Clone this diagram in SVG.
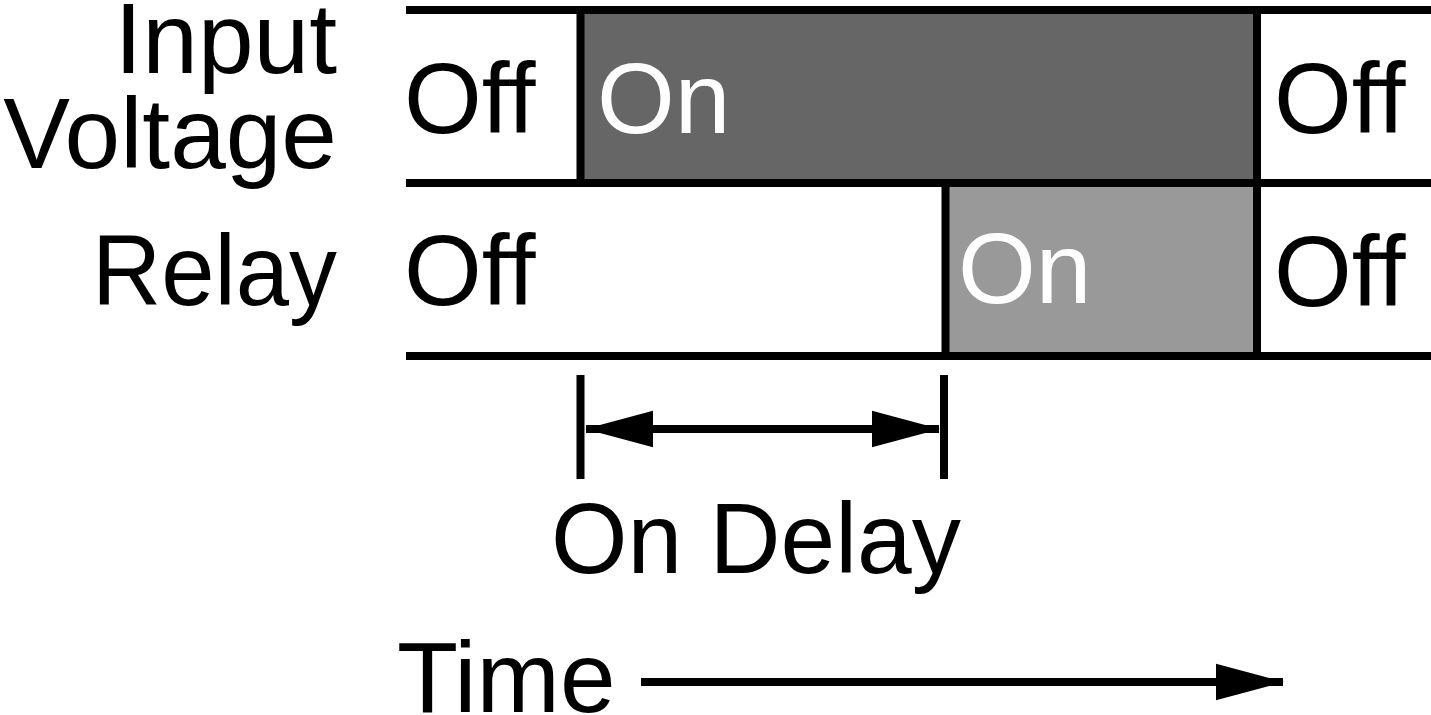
<svg xmlns="http://www.w3.org/2000/svg" width="1431" height="715" viewBox="0 0 1431 715">
  <style>
    text { font-family: "Liberation Sans", Arial, Helvetica, sans-serif; font-size: 100px; fill: #000; }
    .lbl { text-anchor: end; }
    .on { fill: #fff; }
    .ln { stroke: #000; stroke-width: 8; fill: none; }
  </style>
  <defs>
    <marker id="head" markerUnits="userSpaceOnUse" markerWidth="68" markerHeight="38" viewBox="0 0 67 36" refX="66" refY="18" orient="auto-start-reverse">
      <path d="M0,0 L67,18 L0,36 z" fill="#000"/>
    </marker>
  </defs>
  <rect width="1431" height="715" fill="#fff"/>

  <g id="labels">
    <text class="lbl" x="337" y="73">Input</text>
    <text class="lbl" x="337" y="168">Voltage</text>
    <text class="lbl" x="337" y="305" textLength="245" lengthAdjust="spacingAndGlyphs">Relay</text>
  </g>

  <g id="input-row">
    <rect x="580" y="10" width="677" height="173" fill="#666"/>
    <text x="404" y="133">Off</text>
    <text class="on" x="597" y="133">On</text>
    <text x="1274" y="133">Off</text>
  </g>

  <g id="relay-row">
    <rect x="945" y="183" width="312" height="173" fill="#999"/>
    <text x="404" y="305">Off</text>
    <text class="on" x="958" y="303">On</text>
    <text x="1274" y="306">Off</text>
  </g>

  <g id="grid">
    <line class="ln" x1="406" y1="10" x2="1431" y2="10"/>
    <line class="ln" x1="406" y1="183" x2="1431" y2="183"/>
    <line class="ln" x1="406" y1="356" x2="1431" y2="356"/>
    <line class="ln" x1="580.5" y1="10" x2="580.5" y2="183"/>
    <line class="ln" x1="1257" y1="10" x2="1257" y2="356"/>
    <line class="ln" x1="945.5" y1="183" x2="945.5" y2="356"/>
  </g>

  <g id="connectors">
    <line class="ln" x1="580.5" y1="375" x2="580.5" y2="479"/>
    <line class="ln" x1="944" y1="375" x2="944" y2="479"/>
    <line class="ln" x1="586" y1="429" x2="939" y2="429" marker-start="url(#head)" marker-end="url(#head)"/>
    <line class="ln" x1="641" y1="682" x2="1283" y2="682" marker-end="url(#head)"/>
  </g>

  <g id="delay-label">
    <text x="551" y="573" font-size="98" textLength="410" lengthAdjust="spacingAndGlyphs">On Delay</text>
  </g>
  <g id="time-label">
    <text x="397" y="712" font-size="98">Time</text>
  </g>
</svg>
